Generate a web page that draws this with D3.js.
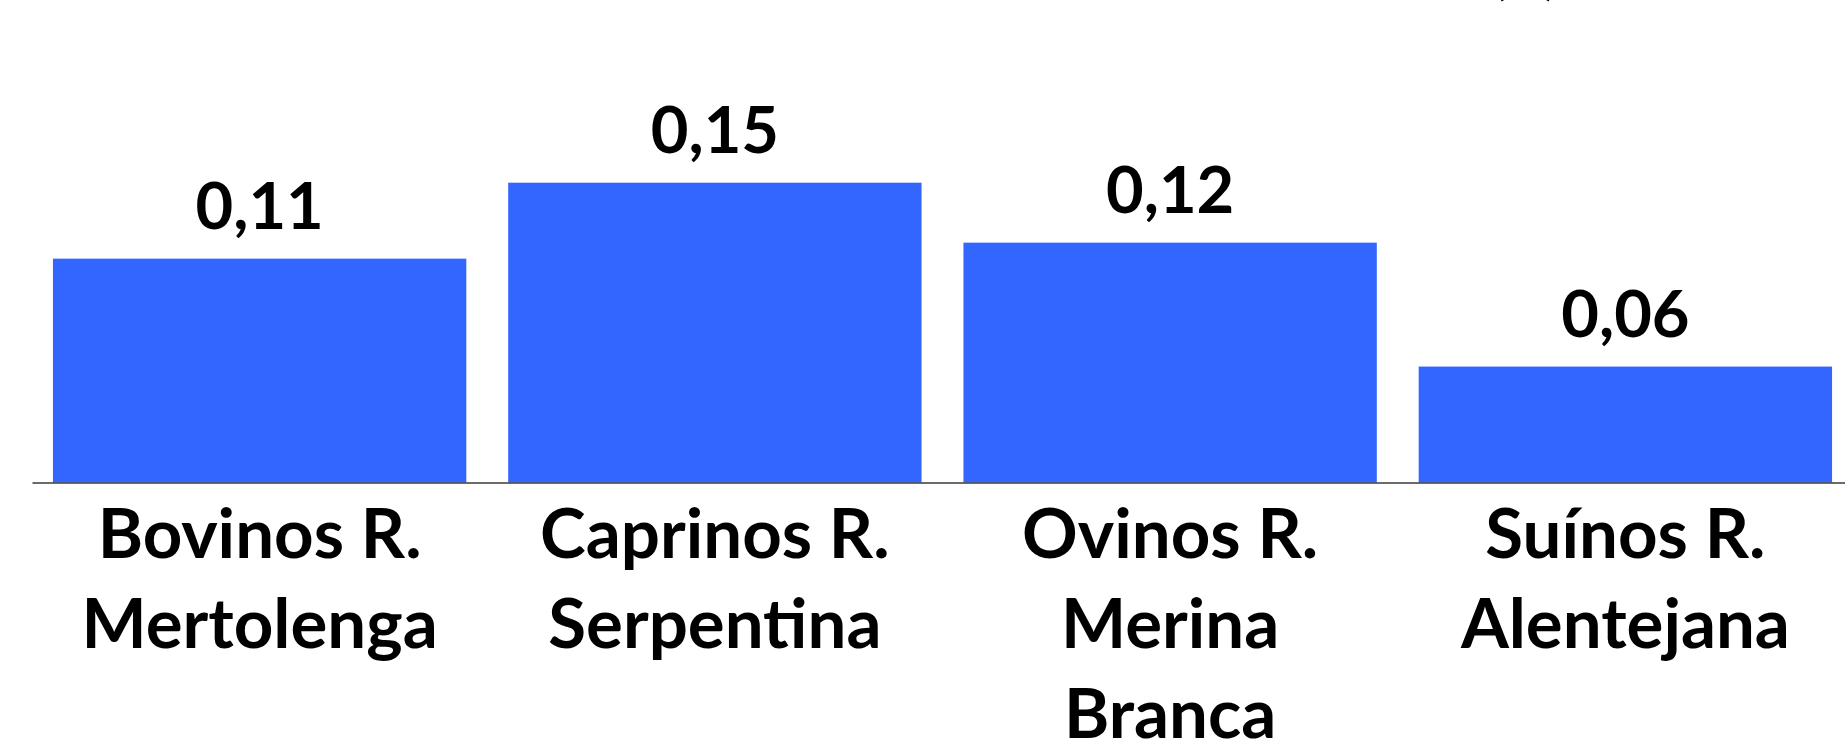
<!DOCTYPE html>
<html lang="pt">
<head>
<meta charset="utf-8">
<title>Raças autóctones</title>
<script src="https://cdn.jsdelivr.net/npm/d3@7"></script>
<style>
  html, body { margin: 0; padding: 0; background: #ffffff; overflow: hidden; }
  svg { display: block; font-family: Lato, 'Open Sans', 'Noto Sans', sans-serif; }
</style>
</head>
<body>
<div id="chart"></div>
<script>
// Chart values
const CATEGORIES = ['bovinos', 'caprinos', 'ovinos', 'suinos'];
const CATEGORY_LINES = [
  ['Bovinos R.', 'Mertolenga'],
  ['Caprinos R.', 'Serpentina'],
  ['Ovinos R.', 'Merina', 'Branca'],
  ['Suínos R.', 'Alentejana']
];
const VALUES = [0.112, 0.150, 0.120, 0.058];
const TITLE_TAIL = '(€)';

const WIDTH = 1845;
const HEIGHT = 740;
const BASELINE = 482.5;
const BAR_COLOR = '#3366ff';
const VALUE_SIZE = 65;
const CAT_SIZE = 69;

const fmt = (v) => d3.format('.2f')(v).replace('.', ',');

const svg = d3.select('#chart')
  .append('svg')
  .attr('width', WIDTH)
  .attr('height', HEIGHT)
  .attr('viewBox', `0 0 ${WIDTH} ${HEIGHT}`);

svg.append('rect')
  .attr('width', WIDTH)
  .attr('height', HEIGHT)
  .attr('fill', '#ffffff');

// the title sits above the frame; only the end of it shows
svg.append('text')
  .attr('x', 1559)
  .attr('y', -8)
  .attr('text-anchor', 'end')
  .attr('fill', '#000')
  .style('font-size', '60px')
  .style('font-weight', 700)
  .text(TITLE_TAIL);

const x = d3.scaleBand()
  .domain(CATEGORIES)
  .range([32, 1853])
  .paddingInner(0.092)
  .paddingOuter(0.046);

const y = d3.scaleLinear()
  .domain([0, 0.2])
  .range([BASELINE, BASELINE - 0.2 * 1998.7]);

const rows = CATEGORIES.map((key, i) => ({ key, value: VALUES[i], lines: CATEGORY_LINES[i] }));

svg.append('g')
  .selectAll('rect')
  .data(rows)
  .join('rect')
  .attr('x', (d) => x(d.key))
  .attr('y', (d) => y(d.value))
  .attr('width', x.bandwidth())
  .attr('height', (d) => y(0) - y(d.value))
  .attr('fill', BAR_COLOR);

svg.append('g')
  .selectAll('text')
  .data(rows)
  .join('text')
  .attr('x', (d) => x(d.key) + x.bandwidth() / 2)
  .attr('y', (d) => y(d.value) - 30)
  .attr('text-anchor', 'middle')
  .attr('fill', '#000')
  .style('font-size', `${VALUE_SIZE}px`)
  .style('font-weight', 700)
  .text((d) => fmt(d.value));

const linesByKey = new Map(rows.map((d) => [d.key, d.lines]));

svg.append('g')
  .attr('transform', `translate(0,${BASELINE})`)
  .call(d3.axisBottom(x).tickSize(0).tickSizeOuter(0))
  .call((ax) => ax.select('.domain')
    .attr('stroke', '#3a3a3a')
    .attr('stroke-width', 1.6))
  .call((ax) => ax.selectAll('.tick text').each(function (key) {
    const t = d3.select(this)
      .text(null)
      .attr('y', 0)
      .attr('dy', null)
      .attr('fill', '#000')
      .style('font-family', "Lato, 'Open Sans', sans-serif")
      .style('font-size', `${CAT_SIZE}px`)
      .style('font-weight', 700);
    linesByKey.get(key).forEach((line, i) => {
      t.append('tspan')
        .attr('x', 0)
        .attr('y', 75 + i * 90)
        .text(line);
    });
  }));
</script>
</body>
</html>
